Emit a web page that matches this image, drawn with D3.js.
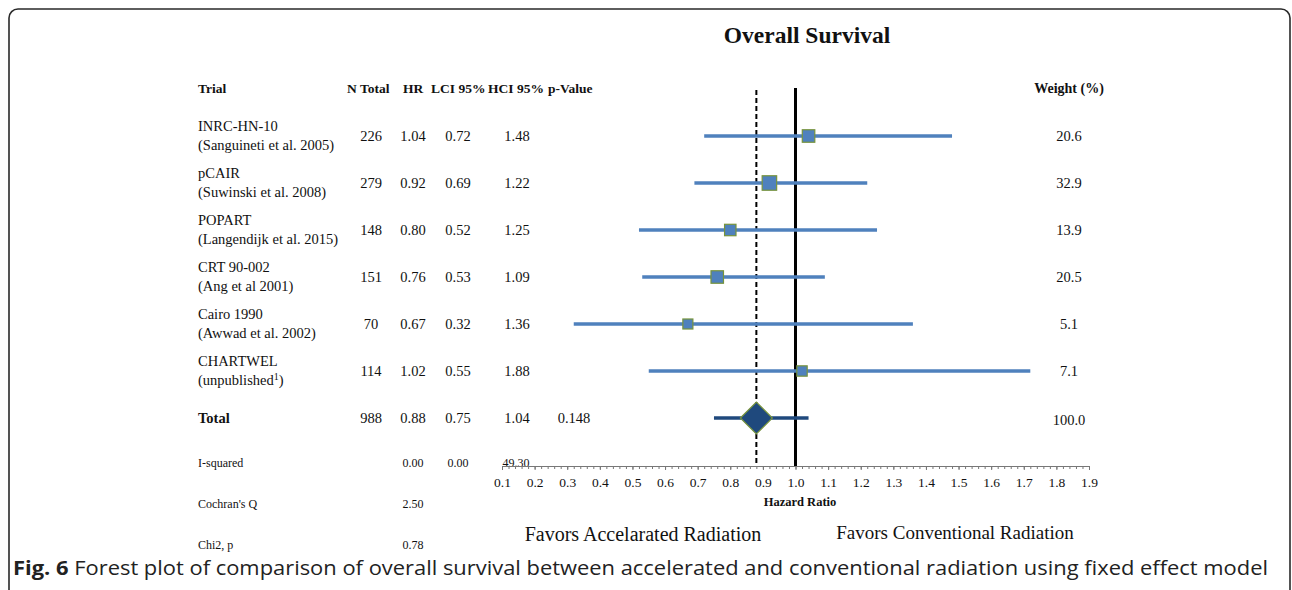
<!DOCTYPE html>
<html>
<head>
<meta charset="utf-8">
<script src="https://cdn.jsdelivr.net/npm/d3@7"></script>
<style>
  html, body { margin: 0; padding: 0; background: #fff; }
  svg { display: block; }
  .serif { font-family: "Liberation Serif", "DejaVu Serif", serif; fill: #111; }
</style>
</head>
<body>
<svg id="chart" width="1292" height="590"></svg>
<script>
// ---- data ----
const trials = ["INRC-HN-10", "pCAIR", "POPART", "CRT 90-002", "Cairo 1990", "CHARTWEL"];
const refs = ["(Sanguineti et al. 2005)", "(Suwinski et al. 2008)", "(Langendijk et al. 2015)", "(Ang et al 2001)", "(Awwad et al. 2002)", "(unpublished\u00B9)"];
const nTotal = [226, 279, 148, 151, 70, 114];
const hr = [1.04, 0.92, 0.80, 0.76, 0.67, 1.02];
const lci = [0.72, 0.69, 0.52, 0.53, 0.32, 0.55];
const hci = [1.48, 1.22, 1.25, 1.09, 1.36, 1.88];
// upper CI ends as actually drawn in the figure (CHARTWEL bar stops near 1.72)
const hciDrawn = [1.48, 1.22, 1.25, 1.09, 1.36, 1.72];
const weights = [20.6, 32.9, 13.9, 20.5, 5.1, 7.1];
const totalRow = { label: "Total", n: 988, hr: 0.88, lci: 0.75, hci: 1.04, p: "0.148", weight: "100.0" };
const statLabels = ["I-squared", "Cochran's Q", "Chi2, p"];
const statValues = [["0.00", "0.00", "49.30"], ["2.50"], ["0.78"]];
const axisTicks = [0.1, 0.2, 0.3, 0.4, 0.5, 0.6, 0.7, 0.8, 0.9, 1.0, 1.1, 1.2, 1.3, 1.4, 1.5, 1.6, 1.7, 1.8, 1.9];
const headers = ["Trial", "N Total", "HR", "LCI 95%", "HCI 95%", "p-Value"];

const svg = d3.select("#chart");

// frame
svg.append("rect").attr("x", 9).attr("y", 9).attr("width", 1281).attr("height", 620)
  .attr("rx", 9).attr("fill", "none").attr("stroke", "#2a2a2a").attr("stroke-width", 1.6);

// scales
const x = d3.scaleLinear().domain([0.1, 1.9]).range([502, 1089]);
const rowKeys = trials.concat(["Total"]);
const y = d3.scalePoint().domain(rowKeys).range([136, 418]);
const size = d3.scaleLinear().domain([5, 33]).range([10, 14.5]);

// title
svg.append("text").attr("class", "serif").attr("x", 807).attr("y", 43)
  .attr("text-anchor", "middle").attr("font-size", 23.5).attr("font-weight", "bold")
  .text("Overall Survival");

// headers
const colX = { n: 371, hr: 413, lci: 458, hci: 517, p: 574, w: 1069 };
const hdr = svg.append("g").attr("class", "serif").attr("font-size", 13.5).attr("font-weight", "bold");
const hdrX = [198, 347, 403, 431, 488, 548];
headers.forEach((h, i) => hdr.append("text").attr("x", hdrX[i]).attr("y", 93).text(h));
hdr.append("text").attr("x", colX.w).attr("y", 93).attr("text-anchor", "middle").attr("font-size", 14).text("Weight (%)");

// table rows
const tbl = svg.append("g").attr("class", "serif").attr("font-size", 14.5);
trials.forEach((t, i) => {
  const yy = y(t);
  tbl.append("text").attr("x", 198).attr("y", yy - 5).text(t);
  if (i === 5) {
    const tx = tbl.append("text").attr("x", 198).attr("y", yy + 14);
    tx.append("tspan").text("(unpublished");
    tx.append("tspan").attr("font-size", 10).attr("dy", -5).text("1");
    tx.append("tspan").attr("dy", 5).text(")");
  } else {
    tbl.append("text").attr("x", 198).attr("y", yy + 14).text(refs[i]);
  }
  const vals = [[colX.n, nTotal[i]], [colX.hr, hr[i].toFixed(2)], [colX.lci, lci[i].toFixed(2)], [colX.hci, hci[i].toFixed(2)]];
  vals.forEach(([cx, v]) => {
    tbl.append("text").attr("x", cx).attr("y", yy + 5).attr("text-anchor", "middle").text(v);
  });
  tbl.append("text").attr("x", colX.w).attr("y", yy + 5).attr("text-anchor", "middle").text(weights[i].toFixed(1));
});
const ty = y("Total");
tbl.append("text").attr("x", 198).attr("y", ty + 5).attr("font-weight", "bold").text(totalRow.label);
[[colX.n, totalRow.n], [colX.hr, totalRow.hr.toFixed(2)], [colX.lci, totalRow.lci.toFixed(2)], [colX.hci, totalRow.hci.toFixed(2)], [colX.p, totalRow.p]]
  .forEach(([cx, v]) => tbl.append("text").attr("x", cx).attr("y", ty + 5).attr("text-anchor", "middle").text(v));
tbl.append("text").attr("x", colX.w).attr("y", ty + 7).attr("text-anchor", "middle").text(totalRow.weight);

// stats
const st = svg.append("g").attr("class", "serif").attr("font-size", 12);
const statY = [467, 508, 549];
statLabels.forEach((l, i) => {
  st.append("text").attr("x", 198).attr("y", statY[i]).text(l);
  const cols = [413, 458, 516];
  statValues[i].forEach((v, j) => {
    st.append("text").attr("x", cols[j]).attr("y", statY[i]).attr("text-anchor", "middle").text(v);
  });
});

// axis
const axisY = 466;
const minor = d3.range(5, 96).map(k => k / 50);
svg.append("g").attr("transform", `translate(0,${axisY})`)
  .call(d3.axisBottom(x).tickValues(minor).tickSize(3).tickFormat(""))
  .call(g => g.select(".domain").remove())
  .call(g => g.selectAll("line").attr("stroke", "#777"));
const ax = svg.append("g").attr("transform", `translate(0,${axisY})`)
  .call(d3.axisBottom(x).tickValues(axisTicks).tickSizeInner(4).tickSizeOuter(0).tickPadding(7).tickFormat(d3.format(".1f")));
ax.select(".domain").attr("stroke", "#777");
ax.selectAll("line").attr("stroke", "#777");
ax.selectAll("text").attr("font-family", "Liberation Serif, serif").attr("font-size", 13.5).attr("fill", "#111");

svg.append("text").attr("class", "serif").attr("x", 800).attr("y", 506)
  .attr("text-anchor", "middle").attr("font-size", 12.5).attr("font-weight", "bold").text("Hazard Ratio");

// reference lines
svg.append("line").attr("x1", x(totalRow.hr)).attr("x2", x(totalRow.hr)).attr("y1", 90).attr("y2", axisY)
  .attr("stroke", "#000").attr("stroke-width", 2).attr("stroke-dasharray", "5,3");
svg.append("line").attr("x1", x(1.0)).attr("x2", x(1.0)).attr("y1", 88).attr("y2", axisY)
  .attr("stroke", "#000").attr("stroke-width", 3);

// CI lines & squares
const data = trials.map((t, i) => ({ t, hr: hr[i], lci: lci[i], hci: hciDrawn[i], w: weights[i] }));
svg.append("g").selectAll("line").data(data).join("line")
  .attr("x1", d => x(d.lci)).attr("x2", d => x(d.hci))
  .attr("y1", d => y(d.t)).attr("y2", d => y(d.t))
  .attr("stroke", "#4F81BD").attr("stroke-width", 3.5);
svg.append("g").selectAll("rect").data(data).join("rect")
  .attr("x", d => x(d.hr) - size(d.w) / 2).attr("y", d => y(d.t) - size(d.w) / 2)
  .attr("width", d => size(d.w)).attr("height", d => size(d.w))
  .attr("fill", "#4F81BD").attr("stroke", "#77933C").attr("stroke-width", 1.2);

// total
svg.append("line").attr("x1", x(totalRow.lci)).attr("x2", x(totalRow.hci)).attr("y1", ty).attr("y2", ty)
  .attr("stroke", "#1F497D").attr("stroke-width", 3.5);
const cx = x(totalRow.hr), dh = 16;
svg.append("path").attr("d", `M${cx - dh},${ty} L${cx},${ty - dh} L${cx + dh},${ty} L${cx},${ty + dh} Z`)
  .attr("fill", "#1F497D").attr("stroke", "#77933C").attr("stroke-width", 1.2);

// favors
svg.append("text").attr("class", "serif").attr("x", 643).attr("y", 541).attr("text-anchor", "middle")
  .attr("font-size", 20).text("Favors Accelarated Radiation");
svg.append("text").attr("class", "serif").attr("x", 955).attr("y", 539).attr("text-anchor", "middle")
  .attr("font-size", 19).text("Favors Conventional Radiation");

// caption
const cap = svg.append("text").attr("x", 13).attr("y", 575).attr("font-family", "Open Sans, Noto Sans, sans-serif")
  .attr("font-size", 20).attr("fill", "#222")
  .attr("textLength", 1255).attr("lengthAdjust", "spacingAndGlyphs");
cap.append("tspan").attr("font-weight", "bold").text("Fig. 6");
cap.append("tspan").text(" Forest plot of comparison of overall survival between accelerated and conventional radiation using fixed effect model");
</script>
</body>
</html>
